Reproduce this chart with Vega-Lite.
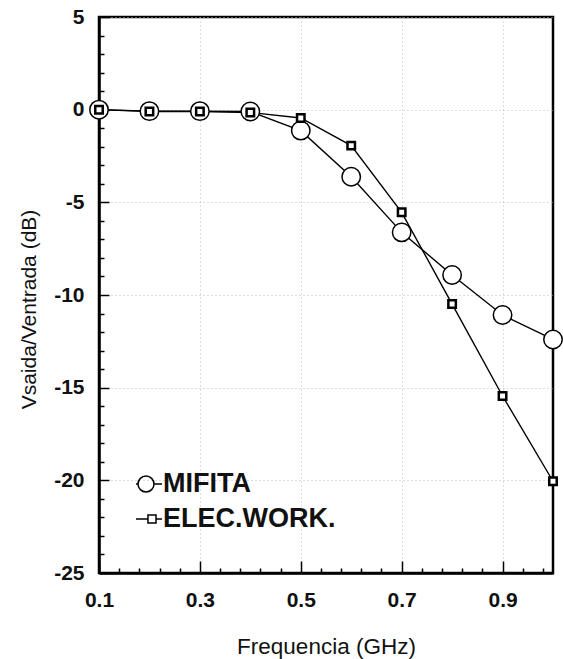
{
  "$schema": "https://vega.github.io/schema/vega-lite/v6.json",
  "width": 454,
  "height": 556,
  "autosize": {"type": "none"},
  "padding": {"left": 99, "top": 17, "right": 10, "bottom": 86},
  "background": "white",
  "config": {
    "view": {"stroke": "black", "strokeWidth": 2.5},
    "font": "Liberation Sans"
  },
  "data": {
    "values": [
      {"f": 0.1, "v": 0, "serie": "MIFITA"},
      {"f": 0.2, "v": -0.08, "serie": "MIFITA"},
      {"f": 0.3, "v": -0.08, "serie": "MIFITA"},
      {"f": 0.4, "v": -0.1, "serie": "MIFITA"},
      {"f": 0.5, "v": -1.13, "serie": "MIFITA"},
      {"f": 0.6, "v": -3.62, "serie": "MIFITA"},
      {"f": 0.7, "v": -6.62, "serie": "MIFITA"},
      {"f": 0.8, "v": -8.92, "serie": "MIFITA"},
      {"f": 0.9, "v": -11.08, "serie": "MIFITA"},
      {"f": 1.0, "v": -12.4, "serie": "MIFITA"},
      {"f": 0.1, "v": 0, "serie": "ELEC.WORK."},
      {"f": 0.2, "v": -0.1, "serie": "ELEC.WORK."},
      {"f": 0.3, "v": -0.1, "serie": "ELEC.WORK."},
      {"f": 0.4, "v": -0.15, "serie": "ELEC.WORK."},
      {"f": 0.5, "v": -0.45, "serie": "ELEC.WORK."},
      {"f": 0.6, "v": -1.94, "serie": "ELEC.WORK."},
      {"f": 0.7, "v": -5.54, "serie": "ELEC.WORK."},
      {"f": 0.8, "v": -10.49, "serie": "ELEC.WORK."},
      {"f": 0.9, "v": -15.45, "serie": "ELEC.WORK."},
      {"f": 1.0, "v": -20.05, "serie": "ELEC.WORK."}
    ]
  },
  "resolve": {"axis": {"x": "independent", "y": "independent"}},
  "layer": [
    {
      "mark": {"type": "line", "color": "black", "strokeWidth": 1.4},
      "encoding": {
        "x": {
          "field": "f", "type": "quantitative",
          "scale": {"domain": [0.1, 1.0], "nice": false, "zero": false},
          "axis": {
            "orient": "bottom", "values": [0.1, 0.3, 0.5, 0.7, 0.9], "format": ".1f",
            "title": "Frequencia (GHz)",
            "tickSize": -12, "tickColor": "black", "tickWidth": 1.5,
            "labelPadding": 28, "labelFontSize": 21, "labelFontWeight": "bold",
            "labelFlush": false, "labelOverlap": false, "labelColor": "#111",
            "domainColor": "black", "domainWidth": 2.5,
            "grid": true, "gridColor": "#bbb", "gridDash": [1, 3], "gridWidth": 1,
            "titleFontSize": 22.5, "titleFontWeight": "normal", "titleColor": "#111", "titlePadding": 25
          }
        },
        "y": {
          "field": "v", "type": "quantitative",
          "scale": {"domain": [-25, 5], "nice": false, "zero": false},
          "axis": {
            "orient": "left", "values": [-25, -20, -15, -10, -5, 0, 5],
            "labelExpr": "toString(datum.value)",
            "title": "Vsaida/Ventrada (dB)",
            "tickSize": -10, "tickColor": "black", "tickWidth": 1.5,
            "labelPadding": 25, "labelFontSize": 21, "labelFontWeight": "bold",
            "labelFlush": false, "labelOverlap": false, "labelColor": "#111",
            "domainColor": "black", "domainWidth": 2.5,
            "grid": true, "gridColor": "#bbb", "gridDash": [1, 3], "gridWidth": 1,
            "titleFontSize": 21, "titleFontWeight": "normal", "titleColor": "#111",
            "titlePadding": 14, "titleY": 292
          }
        },
        "detail": {"field": "serie"}
      }
    },
    {
      "transform": [{"filter": "datum.serie === 'MIFITA'"}],
      "mark": {"type": "point", "shape": "circle", "fill": "white", "stroke": "black", "fillOpacity": 1, "strokeOpacity": 1, "opacity": 1, "size": 340, "strokeWidth": 1.5},
      "encoding": {
        "x": {
          "field": "f", "type": "quantitative",
          "axis": {
            "orient": "bottom",
            "values": [0.14, 0.18, 0.22, 0.26, 0.34, 0.38, 0.42, 0.46, 0.54, 0.58, 0.62, 0.66, 0.74, 0.78, 0.82, 0.86, 0.94, 0.98],
            "labels": false, "domain": false, "grid": false, "title": null,
            "tickSize": -5, "tickColor": "black", "tickWidth": 1.5
          }
        },
        "y": {
          "field": "v", "type": "quantitative",
          "axis": {
            "orient": "left",
            "values": [-24, -23, -22, -21, -19, -18, -17, -16, -14, -13, -12, -11, -9, -8, -7, -6, -4, -3, -2, -1, 1, 2, 3, 4],
            "labels": false, "domain": false, "grid": false, "title": null,
            "tickSize": -5, "tickColor": "black", "tickWidth": 1.5
          }
        }
      }
    },
    {
      "transform": [{"filter": "datum.serie === 'ELEC.WORK.'"}],
      "mark": {"type": "point", "shape": "square", "fill": "white", "stroke": "black", "fillOpacity": 1, "strokeOpacity": 1, "opacity": 1, "size": 56, "strokeWidth": 2.5},
      "encoding": {
        "x": {"field": "f", "type": "quantitative", "axis": null},
        "y": {"field": "v", "type": "quantitative", "axis": null}
      }
    },
    {
      "transform": [{"filter": "datum.f > 5"}],
      "mark": {"type": "point", "filled": false, "color": "black", "opacity": 1, "size": 676, "strokeWidth": 1.5},
      "encoding": {
        "x": {"field": "f", "type": "quantitative", "axis": null},
        "y": {"field": "v", "type": "quantitative", "axis": null},
        "shape": {
          "field": "serie", "type": "nominal",
          "scale": {
            "domain": ["MIFITA", "ELEC.WORK."],
            "range": [
              "M-1,0L-0.845,0M0.385,0L1,0M-0.845,0A0.615,0.615,0,1,1,0.385,0A0.615,0.615,0,1,1,-0.845,0Z",
              "M-1,0L-0.08,0M0.54,0L1,0M-0.08,-0.31L0.54,-0.31L0.54,0.31L-0.08,0.31Z"
            ]
          },
          "legend": {
            "title": null, "orient": "none", "legendX": 36, "legendY": 453,
            "padding": 0, "labelFontSize": 27, "labelFontWeight": "bold", "labelColor": "#111",
            "labelOffset": 0, "labelLimit": 400, "rowPadding": 8, "symbolSize": 676,
            "symbolStrokeWidth": 1.5, "symbolStrokeColor": "black", "symbolFillColor": "white"
          }
        }
      }
    }
  ]
}
